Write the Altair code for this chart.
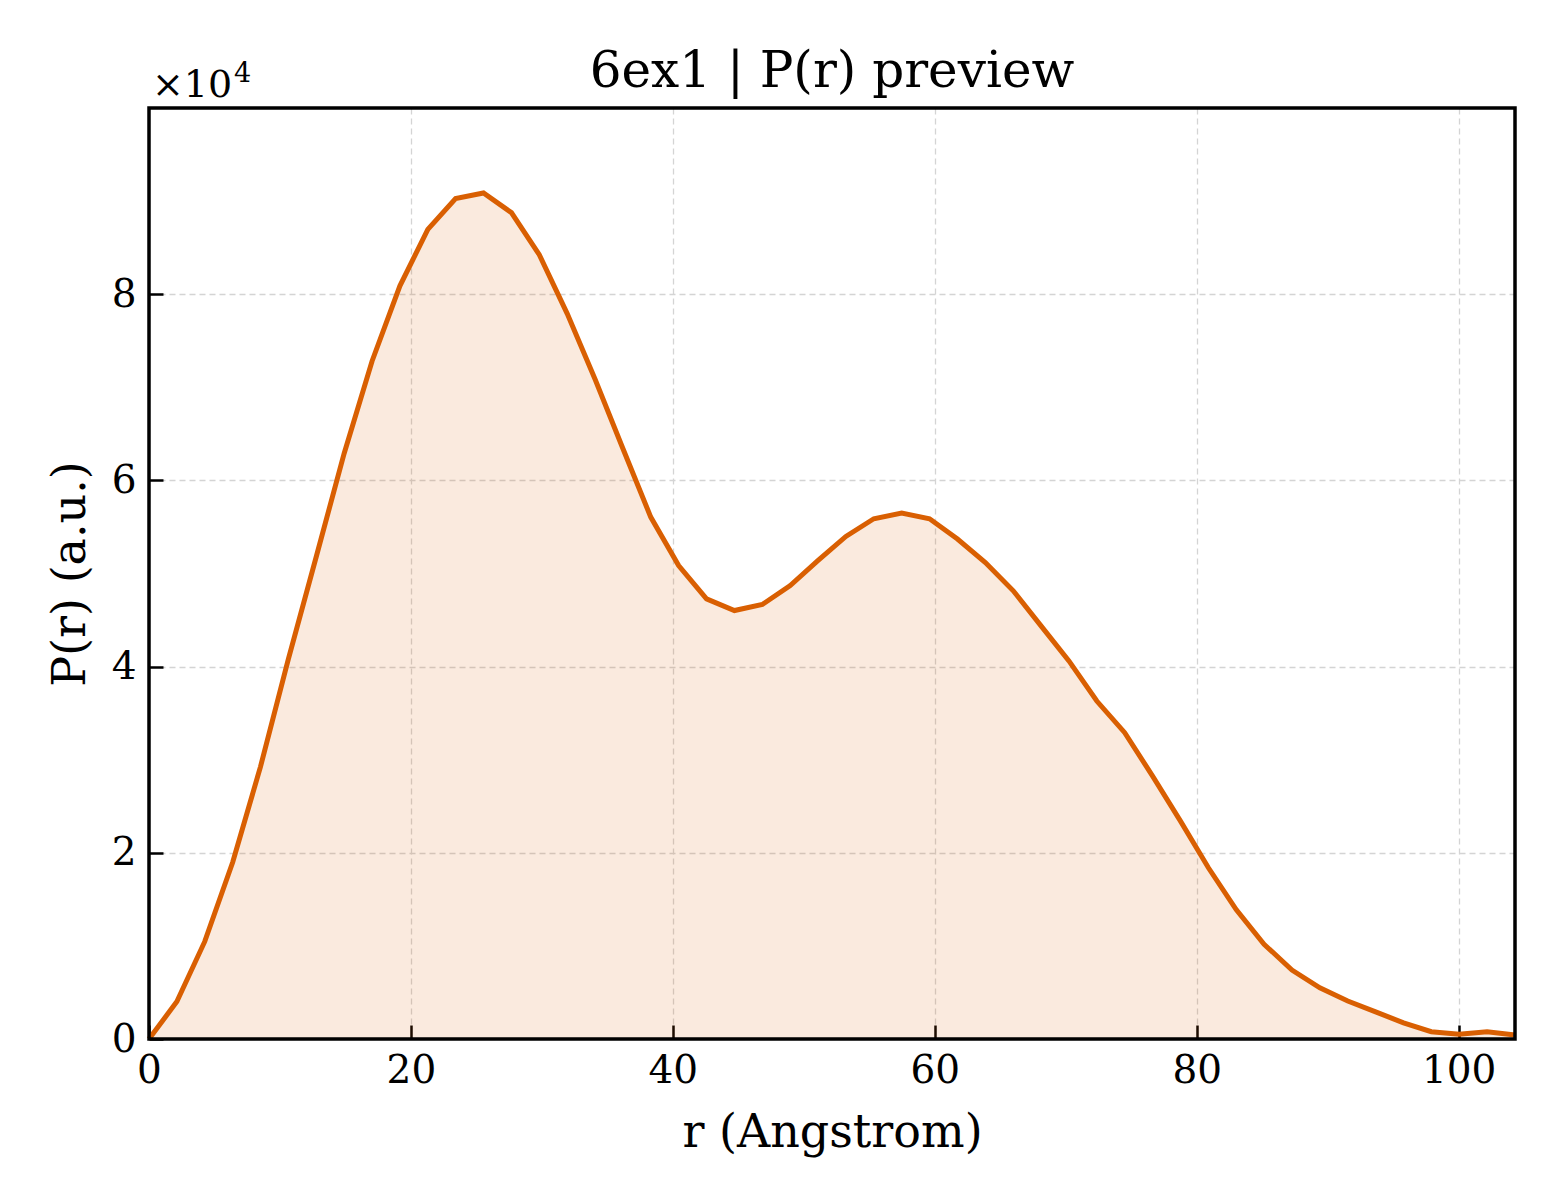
import altair as alt
import pandas as pd

R_VALUES = [
    0.00, 2.13, 4.26, 6.39, 8.51, 10.64, 12.77, 14.90, 17.03, 19.16,
    21.29, 23.41, 25.54, 27.67, 29.80, 31.93, 34.06, 36.19, 38.31, 40.44,
    42.57, 44.70, 46.83, 48.96, 51.09, 53.21, 55.34, 57.47, 59.60, 61.73,
    63.86, 65.99, 68.11, 70.24, 72.37, 74.50, 76.63, 78.76, 80.89, 83.01,
    85.14, 87.27, 89.40, 91.53, 93.66, 95.79, 97.91, 100.04, 102.17, 104.30,
]
P_VALUES = [
    0, 4020, 10480, 18980, 29230, 40810, 51800, 62900, 72800, 80900,
    86960, 90270, 90870, 88760, 84240, 77920, 70870, 63400, 56060, 50860,
    47280, 46020, 46670, 48710, 51400, 53980, 55880, 56490, 55880, 53700,
    51180, 48140, 44370, 40610, 36300, 32900, 28240, 23400, 18390, 13900,
    10180, 7410, 5500, 4080, 2910, 1740, 780, 500, 780, 430,
]
X_TICKS = [0, 20, 40, 60, 80, 100]
Y_TICKS = [0, 20000, 40000, 60000, 80000]

TITLE = "6ex1 | P(r) preview"
X_TITLE = "r (Angstrom)"
Y_TITLE = "P(r) (a.u.)"
OFFSET_BASE = "×10"
OFFSET_EXP = "4"

FONT = "DejaVu Serif"
ORANGE = "#d95f02"
W, H = 1366, 931

df = pd.DataFrame({"r": R_VALUES, "p": P_VALUES})

grid_style = dict(grid=True, gridDash=[6, 4], gridColor="#d4d4d4", gridWidth=1.3)
tick_style = dict(offset=-14, tickSize=14, tickWidth=2.5, tickColor="black", domain=False)

x_enc = alt.X(
    "r:Q",
    scale=alt.Scale(domain=[0, max(R_VALUES)], nice=False, zero=False),
    axis=alt.Axis(
        values=X_TICKS, title=X_TITLE, format="d", labelFlush=False,
        labelPadding=12, titlePadding=20, **tick_style, **grid_style,
    ),
)
y_enc = alt.Y(
    "p:Q",
    scale=alt.Scale(domain=[0, 100000], nice=False),
    axis=alt.Axis(
        values=Y_TICKS, title=Y_TITLE, labelExpr="datum.value / 10000",
        labelPadding=13, titlePadding=17, **tick_style, **grid_style,
    ),
)

area = alt.Chart(df).mark_area(color=ORANGE, opacity=0.13).encode(x=x_enc, y=y_enc)
line = alt.Chart(df).mark_line(color=ORANGE, strokeWidth=5).encode(x="r:Q", y="p:Q")

# frame drawn on top, like matplotlib spines
frame = alt.Chart(pd.DataFrame({"k": [0]})).mark_rect(
    fill=None, stroke="black", strokeWidth=3.5
).encode(x=alt.value(0), x2=alt.value(W), y=alt.value(0), y2=alt.value(H))

labels = pd.DataFrame({"t": [TITLE], "b": [OFFSET_BASE], "e": [OFFSET_EXP]})
title = alt.Chart(labels).mark_text(
    align="center", baseline="alphabetic", font=FONT, fontSize=50, color="black"
).encode(x=alt.value(W / 2), y=alt.value(-21), text="t:N")
offset_base = alt.Chart(labels).mark_text(
    align="left", baseline="alphabetic", font=FONT, fontSize=38, color="black"
).encode(x=alt.value(3), y=alt.value(-11), text="b:N")
offset_exp = alt.Chart(labels).mark_text(
    align="left", baseline="alphabetic", font=FONT, fontSize=27, color="black"
).encode(x=alt.value(85), y=alt.value(-26), text="e:N")

chart = alt.layer(area, line, frame, title, offset_base, offset_exp).properties(
    width=W,
    height=H,
    autosize=alt.AutoSizeParams(type="none"),
    padding={"left": 141, "top": 100, "right": 30, "bottom": 150},
).configure_view(
    stroke=None,
).configure_axis(
    labelFont=FONT, labelFontSize=39, labelColor="black",
    titleFont=FONT, titleFontSize=46, titleFontWeight="normal", titleColor="black",
)

chart.save("out.html", embed_options={"renderer": "svg", "actions": False})
